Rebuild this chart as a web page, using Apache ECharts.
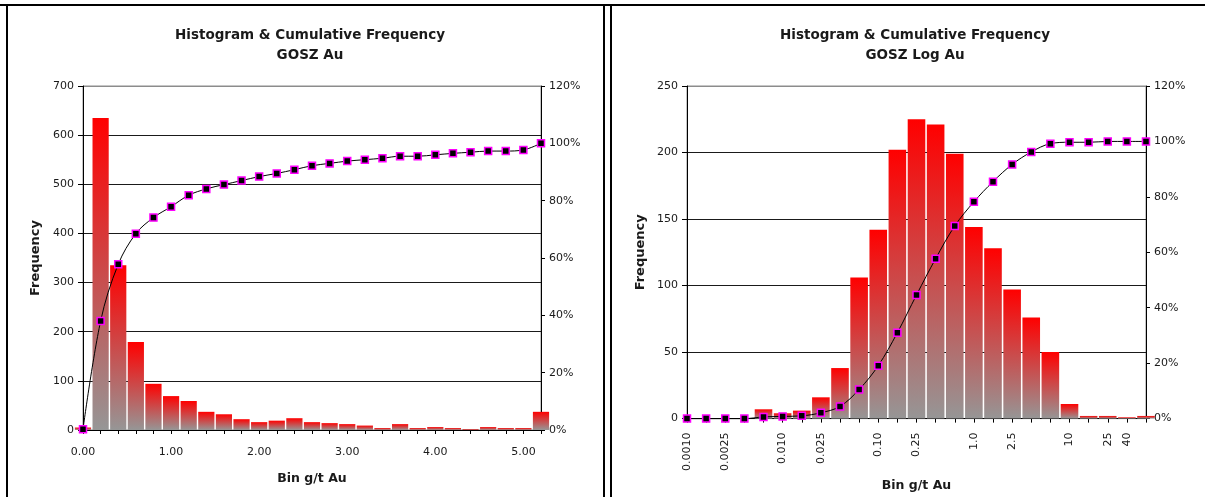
<!DOCTYPE html>
<html>
<head>
<meta charset="utf-8">
<script src="https://cdn.jsdelivr.net/npm/echarts@6/dist/echarts.min.js"></script>
<style>
html,body{margin:0;padding:0;background:#fff;}
#chart{width:1205px;height:497px;}
</style>
</head>
<body>
<div id="chart"></div>
<script>
// ---- data: left chart (linear bins) ----
const leftBins = ['0.00','0.20','0.40','0.60','0.80','1.00','1.20','1.40','1.60','1.80','2.00','2.20','2.40','2.60','2.80','3.00','3.20','3.40','3.60','3.80','4.00','4.20','4.40','4.60','4.80','5.00','5.20'];
const leftFreq = [5,635,335,179,94,69,59,37,32,22,16,19,24,16,14,12,9,4,12,4,6,4,2,6,4,4,37];
const leftCum = [0.3,38.0,57.8,68.5,74.1,77.9,81.9,84.1,85.6,87.0,88.4,89.5,90.8,92.2,93.0,93.8,94.3,94.8,95.5,95.5,96.0,96.5,96.9,97.3,97.3,97.7,100];

// ---- data: right chart (log bins) ----
const logBins = ['0.0010','0.0016','0.0025','0.0040','0.0063','0.010','0.016','0.025','0.040','0.063','0.10','0.16','0.25','0.40','0.63','1.0','1.6','2.5','4.0','6.3','10','16','25','40','63'];
const logLabels = ['0.0010','0.0025','0.010','0.025','0.10','0.25','1.0','2.5','10','25','40'];
const logFreq = [0,0,0,0,7,4,6,16,38,106,142,202,225,221,199,144,128,97,76,50,11,2,2,1,2];
const logCum = [0,0,0,0,0.6,0.8,1.0,2.1,4.4,10.5,19.1,31.0,44.6,57.7,69.5,78.2,85.5,91.7,96.2,99.2,99.7,99.7,100,100,100];

const leftTicks = [0,100,200,300,400,500,600,700];
const rightTicks = [0,50,100,150,200,250];

const FONT = 'DejaVu Sans';
const TXT = '#1a1a1a';

const chart = echarts.init(document.getElementById('chart'));

const barColor = new echarts.graphic.LinearGradient(0,0,0,1,[
  {offset:0,color:'#ff0000'},
  {offset:1,color:'#969696'}
]);

function splitColors(n){
  const arr=[];
  for(let i=0;i<n-1;i++) arr.push('#1a1a1a');
  arr.push('#8c8c8c');
  return arr;
}

function xAxisBase(gridIndex, data){
  return {
    type:'category', gridIndex, data, boundaryGap:false,
    axisLine:{lineStyle:{color:'#000',width:1}},
    axisTick:{show:true, interval:0, length:4, lineStyle:{color:'#000'}},
    nameLocation:'middle', name:'Bin g/t Au',
    nameTextStyle:{fontFamily:FONT,fontWeight:'bold',fontSize:12.5,color:TXT}
  };
}

const option = {
  animation:false,
  backgroundColor:'#fff',
  title:[
    {text:'Histogram & Cumulative Frequency\nGOSZ Au', left:305, top:20, textAlign:'center',
     textStyle:{fontFamily:FONT,fontSize:13.5,fontWeight:'bold',color:TXT,lineHeight:20}},
    {text:'Histogram & Cumulative Frequency\nGOSZ Log Au', left:910, top:20, textAlign:'center',
     textStyle:{fontFamily:FONT,fontSize:13.5,fontWeight:'bold',color:TXT,lineHeight:20}}
  ],
  grid:[
    {left:83, top:86, width:458, height:344, show:true, borderColor:'#8c8c8c', borderWidth:1, containLabel:false},
    {left:687, top:86, width:459, height:338, show:true, borderColor:'#8c8c8c', borderWidth:1, containLabel:false}
  ],
  xAxis:[
    Object.assign(xAxisBase(0,leftBins),{
      nameGap:42,
      axisLabel:{interval:4, margin:17, fontFamily:FONT, fontSize:11, color:TXT}
    }),
    Object.assign(xAxisBase(1,logBins),{
      nameGap:51,
      axisLabel:{interval:0, rotate:90, margin:14, fontFamily:FONT, fontSize:11, color:TXT,
        formatter:function(v){return logLabels.indexOf(v)>=0?v:'';}}
    })
  ],
  yAxis:[
    {type:'value', gridIndex:0, min:leftTicks[0], max:leftTicks[leftTicks.length-1], interval:100,
     name:'Frequency', nameLocation:'middle', nameGap:41, nameRotate:90,
     nameTextStyle:{fontFamily:FONT,fontWeight:'bold',fontSize:13,color:TXT},
     axisLine:{show:true,lineStyle:{color:'#000'}},
     axisTick:{show:true,length:5,lineStyle:{color:'#000'}},
     axisLabel:{fontFamily:FONT,fontSize:11,color:TXT,margin:9},
     splitLine:{show:true,lineStyle:{color:splitColors(leftTicks.length),width:1}}},
    {type:'value', gridIndex:0, min:0, max:120, interval:20, position:'right',
     axisLine:{show:true,lineStyle:{color:'#000'}},
     axisTick:{show:true,length:4,lineStyle:{color:'#000'}},
     axisLabel:{fontFamily:FONT,fontSize:11,color:TXT,margin:8,formatter:'{value}%'},
     splitLine:{show:false}},
    {type:'value', gridIndex:1, min:rightTicks[0], max:rightTicks[rightTicks.length-1], interval:50,
     name:'Frequency', nameLocation:'middle', nameGap:40, nameRotate:90,
     nameTextStyle:{fontFamily:FONT,fontWeight:'bold',fontSize:13,color:TXT},
     axisLine:{show:true,lineStyle:{color:'#000'}},
     axisTick:{show:true,length:5,lineStyle:{color:'#000'}},
     axisLabel:{fontFamily:FONT,fontSize:11,color:TXT,margin:9},
     splitLine:{show:true,lineStyle:{color:splitColors(rightTicks.length),width:1}}},
    {type:'value', gridIndex:1, min:0, max:120, interval:20, position:'right',
     axisLine:{show:true,lineStyle:{color:'#000'}},
     axisTick:{show:true,length:4,lineStyle:{color:'#000'}},
     axisLabel:{fontFamily:FONT,fontSize:11,color:TXT,margin:8,formatter:'{value}%'},
     splitLine:{show:false}}
  ],
  series:[
    {type:'bar', xAxisIndex:0, yAxisIndex:0, data:leftFreq, barWidth:'92%', clip:true,
     itemStyle:{color:barColor}},
    {type:'line', xAxisIndex:0, yAxisIndex:1, data:leftCum, smooth:0.35, clip:false,
     symbol:'rect', symbolSize:7, showAllSymbol:true,
     lineStyle:{color:'#000',width:1},
     itemStyle:{color:'#000',borderColor:'#ff00ff',borderWidth:1.5}, z:5},
    {type:'bar', xAxisIndex:1, yAxisIndex:2, data:logFreq, barWidth:'92%', clip:true,
     itemStyle:{color:barColor}},
    {type:'line', xAxisIndex:1, yAxisIndex:3, data:logCum, smooth:0.35, clip:false,
     symbol:'rect', symbolSize:7, showAllSymbol:true,
     lineStyle:{color:'#000',width:1},
     itemStyle:{color:'#000',borderColor:'#ff00ff',borderWidth:1.5}, z:5}
  ],
  graphic:[
    {type:'line', shape:{x1:0,y1:5,x2:1205,y2:5}, style:{stroke:'#000',lineWidth:2}, silent:true},
    {type:'line', shape:{x1:7,y1:4,x2:7,y2:497}, style:{stroke:'#000',lineWidth:2}, silent:true},
    {type:'line', shape:{x1:604,y1:4,x2:604,y2:497}, style:{stroke:'#000',lineWidth:2}, silent:true},
    {type:'line', shape:{x1:611,y1:4,x2:611,y2:497}, style:{stroke:'#000',lineWidth:2}, silent:true}
  ]
};
chart.setOption(option);
</script>
</body>
</html>
